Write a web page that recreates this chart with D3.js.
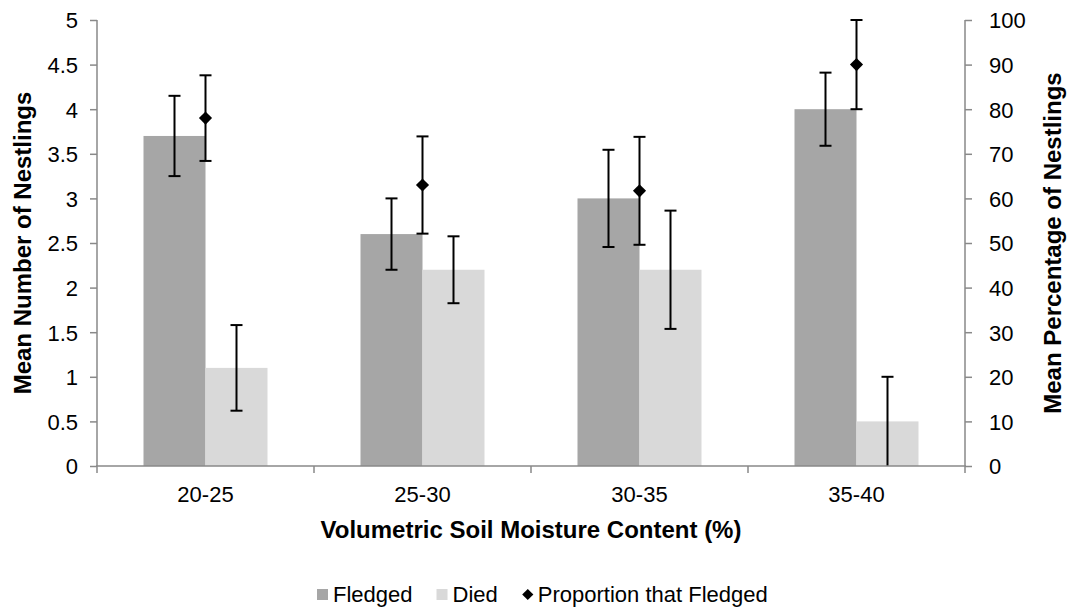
<!DOCTYPE html>
<html>
<head>
<meta charset="utf-8">
<script src="https://cdn.jsdelivr.net/npm/d3@7"></script>
<style>
  html, body { margin: 0; padding: 0; background: #fff; }
  svg text { font-family: "Liberation Sans", Arial, sans-serif; fill: #000; }
</style>
</head>
<body>
<svg id="chart" width="1069" height="609"></svg>
<script>
// Nestling outcomes by soil moisture class
const categories = ["20-25", "25-30", "30-35", "35-40"];
const seriesNames = ["Fledged", "Died"];
const fledged = [3.7, 2.6, 3.0, 4.0];
const fledgedErr = [0.45, 0.4, 0.545, 0.41];
const died = [1.1, 2.2, 2.2, 0.5];
const diedErr = [0.48, 0.375, 0.663, 0.5];
const proportion = [78, 63, 61.7, 90];
const proportionErr = [9.6, 10.9, 12.1, 10];
const leftTicks = [0, 0.5, 1, 1.5, 2, 2.5, 3, 3.5, 4, 4.5, 5];
const rightTicks = [0, 10, 20, 30, 40, 50, 60, 70, 80, 90, 100];

const colors = { Fledged: "#a6a6a6", Died: "#d9d9d9" };
const axisColor = "#898989";

const svg = d3.select("#chart");
const plot = { left: 97, right: 965, top: 20, bottom: 466 };

const x0 = d3.scaleBand().domain(categories).range([plot.left, plot.right]).paddingInner(0).paddingOuter(0);
const x1 = d3.scaleBand().domain(seriesNames).range([0, x0.bandwidth()]).paddingInner(0).paddingOuter(0.75);
const yL = d3.scaleLinear().domain([0, 5]).range([plot.bottom, plot.top]);
const yR = d3.scaleLinear().domain([0, 100]).range([plot.bottom, plot.top]);

const rows = categories.map((c, i) => ({
  cat: c,
  bars: [
    { name: "Fledged", v: fledged[i], e: fledgedErr[i] },
    { name: "Died", v: died[i], e: diedErr[i] }
  ],
  p: proportion[i], pe: proportionErr[i]
}));

// bars
const g = svg.append("g");
const groups = g.selectAll("g.cat").data(rows).join("g")
  .attr("transform", d => `translate(${x0(d.cat)},0)`);
groups.selectAll("rect").data(d => d.bars).join("rect")
  .attr("x", d => x1(d.name))
  .attr("width", x1.bandwidth())
  .attr("y", d => yL(d.v))
  .attr("height", d => yL(0) - yL(d.v))
  .attr("fill", d => colors[d.name]);

// error bars helper
function errorBar(sel, cx, yTop, yBot, cap) {
  sel.append("line").attr("x1", cx).attr("x2", cx).attr("y1", yTop).attr("y2", yBot);
  sel.append("line").attr("x1", cx - cap).attr("x2", cx + cap).attr("y1", yTop).attr("y2", yTop);
  if (yBot < plot.bottom - 0.5)
    sel.append("line").attr("x1", cx - cap).attr("x2", cx + cap).attr("y1", yBot).attr("y2", yBot);
}
const eg = svg.append("g").attr("stroke", "#000").attr("stroke-width", 2);
rows.forEach(r => {
  r.bars.forEach(b => {
    const cx = x0(r.cat) + x1(b.name) + x1.bandwidth() / 2;
    errorBar(eg, cx, yL(b.v + b.e), yL(Math.max(0, b.v - b.e)), 6);
  });
  const cx = x0(r.cat) + x0.bandwidth() / 2;
  errorBar(eg, cx, yR(r.p + r.pe), yR(r.p - r.pe), 6);
});

// proportion markers
const diamond = d3.symbol().type(d3.symbolDiamond2).size(110);
svg.append("g").selectAll("path").data(rows).join("path")
  .attr("d", diamond)
  .attr("transform", d => `translate(${x0(d.cat) + x0.bandwidth() / 2},${yR(d.p)})`)
  .attr("fill", "#000");

// axes
const axisG = svg.append("g");
const leftAxis = axisG.append("g").attr("transform", `translate(${plot.left},0)`)
  .call(d3.axisLeft(yL).tickValues(leftTicks).tickFormat(d3.format("")).tickSize(7).tickPadding(12));
const rightAxis = axisG.append("g").attr("transform", `translate(${plot.right},0)`)
  .call(d3.axisRight(yR).tickValues(rightTicks).tickFormat(d3.format("d")).tickSize(7).tickPadding(17));
[leftAxis, rightAxis].forEach(a => {
  a.select(".domain").attr("stroke", axisColor).attr("stroke-width", 1.5)
    .attr("d", `M0,${plot.top}V${plot.bottom}`);
  a.selectAll(".tick line").attr("stroke", axisColor).attr("stroke-width", 1.5);
  a.selectAll(".tick text").style("font-size", "22px").attr("dy", "0.36em");
});

// category axis
const bottom = axisG.append("g");
bottom.append("line").attr("x1", plot.left - 1).attr("x2", plot.right + 1)
  .attr("y1", plot.bottom).attr("y2", plot.bottom).attr("stroke", axisColor).attr("stroke-width", 1.5);
const bounds = categories.map(c => x0(c)).concat([plot.right]);
bottom.selectAll("line.tk").data(bounds).join("line").attr("class", "tk")
  .attr("x1", d => d).attr("x2", d => d).attr("y1", plot.bottom).attr("y2", plot.bottom + 7)
  .attr("stroke", axisColor).attr("stroke-width", 1.5);
bottom.selectAll("text").data(categories).join("text")
  .attr("x", d => x0(d) + x0.bandwidth() / 2).attr("y", 502)
  .attr("text-anchor", "middle").style("font-size", "22px").text(d => d);

// titles
svg.append("text").attr("x", (plot.left + plot.right) / 2).attr("y", 538)
  .attr("text-anchor", "middle").style("font-size", "24px").style("font-weight", "bold")
  .text("Volumetric Soil Moisture Content (%)");
svg.append("text").attr("transform", `translate(31,${(plot.top + plot.bottom) / 2}) rotate(-90)`)
  .attr("text-anchor", "middle").style("font-size", "24px").style("font-weight", "bold")
  .text("Mean Number of Nestlings");
svg.append("text").attr("transform", `translate(1061,${(plot.top + plot.bottom) / 2}) rotate(-90)`)
  .attr("text-anchor", "middle").style("font-size", "24px").style("font-weight", "bold")
  .text("Mean Percentage of Nestlings");

// legend
const legend = svg.append("g").attr("transform", "translate(0,602)");
const items = [
  { label: "Fledged", type: "rect", color: colors.Fledged },
  { label: "Died", type: "rect", color: colors.Died },
  { label: "Proportion that Fledged", type: "diamond", color: "#000" }
];
let lx = 317;
items.forEach(it => {
  if (it.type === "rect") {
    legend.append("rect").attr("x", lx).attr("y", -13).attr("width", 11).attr("height", 11).attr("fill", it.color);
  } else {
    legend.append("path").attr("d", d3.symbol().type(d3.symbolDiamond2).size(80)())
      .attr("transform", `translate(${lx + 6},-7.5)`).attr("fill", it.color);
  }
  const t = legend.append("text").attr("x", lx + 16).attr("y", 0).style("font-size", "22px").text(it.label);
  lx += 16 + t.node().getComputedTextLength() + 24;
});
</script>
</body>
</html>
